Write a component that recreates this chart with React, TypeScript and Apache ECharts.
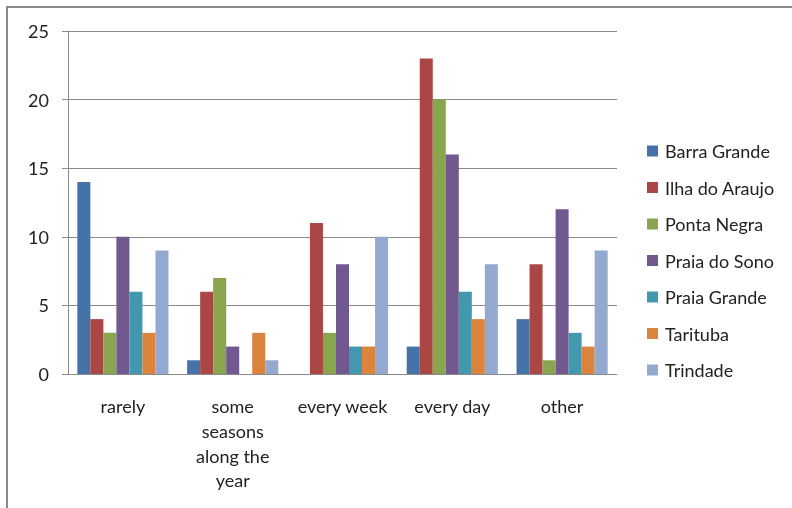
import React, { useEffect, useRef } from "react";
import * as echarts from "echarts";

const categories = ["rarely", "some\nseasons\nalong the\nyear", "every week", "every day", "other"];
const seriesNames = [
  "Barra Grande",
  "Ilha do Araujo",
  "Ponta Negra",
  "Praia do Sono",
  "Praia Grande",
  "Tarituba",
  "Trindade",
];
const barraGrande = [14, 1, 0, 2, 4];
const ilhaDoAraujo = [4, 6, 11, 23, 8];
const pontaNegra = [3, 7, 3, 20, 1];
const praiaDoSono = [10, 2, 8, 16, 12];
const praiaGrande = [6, 0, 2, 6, 3];
const tarituba = [3, 3, 2, 4, 2];
const trindade = [9, 1, 10, 8, 9];
const seriesValues = [barraGrande, ilhaDoAraujo, pontaNegra, praiaDoSono, praiaGrande, tarituba, trindade];
const colors = ["#4572A7", "#AA4643", "#89A54E", "#71588F", "#4198AF", "#DB843D", "#93A9CF"];
const yTicks = { min: 0, max: 25, interval: 5 };

const FONT = "Lato, 'Open Sans', sans-serif";

export default function App() {
  const ref = useRef<HTMLDivElement>(null);
  useEffect(() => {
    if (!ref.current) return;
    const chart = echarts.init(ref.current, null, { renderer: "svg" });
    chart.setOption({
      animation: false,
      textStyle: { fontFamily: FONT },
      color: colors,
      graphic: [
        {
          type: "rect",
          shape: { x: 7, y: 7, width: 1200, height: 1200 },
          style: { fill: "none", stroke: "#8a8a8a", lineWidth: 2 },
          silent: true,
        },
      ],
      grid: { left: 68, right: 175, top: 31, bottom: 134 },
      legend: {
        orient: "vertical",
        left: 642,
        top: 137,
        itemWidth: 11,
        itemHeight: 11,
        itemGap: 18.5,
        icon: "rect",
        data: seriesNames,
        textStyle: { fontFamily: FONT, fontSize: 18, color: "#222", lineHeight: 18, padding: [0, 0, 0, 2] },
      },
      xAxis: {
        type: "category",
        data: categories,
        axisLine: { lineStyle: { color: "#8a8a8a", width: 1 } },
        axisTick: { length: 7, lineStyle: { color: "#8a8a8a" } },
        axisLabel: {
          fontFamily: FONT,
          fontSize: 18,
          color: "#222",
          lineHeight: 24.7,
          margin: 20,
          interval: 0,
          verticalAlign: "top",
        },
      },
      yAxis: {
        type: "value",
        min: yTicks.min,
        max: yTicks.max,
        interval: yTicks.interval,
        axisLine: { show: true, lineStyle: { color: "#8a8a8a", width: 1 } },
        axisTick: { show: true, length: 6, lineStyle: { color: "#8a8a8a" } },
        splitLine: { lineStyle: { color: "#8a8a8a", width: 1 } },
        axisLabel: { fontFamily: FONT, fontSize: 18, color: "#222", margin: 19 },
      },
      series: seriesNames.map((name, i) => ({
        name,
        type: "bar",
        data: seriesValues[i],
        barGap: "0%",
        barCategoryGap: "17%",
        itemStyle: { color: colors[i] },
      })),
    });
    return () => chart.dispose();
  }, []);
  return <div ref={ref} style={{ position: "fixed", left: 0, top: 0, width: 792, height: 508 }} />;
}
